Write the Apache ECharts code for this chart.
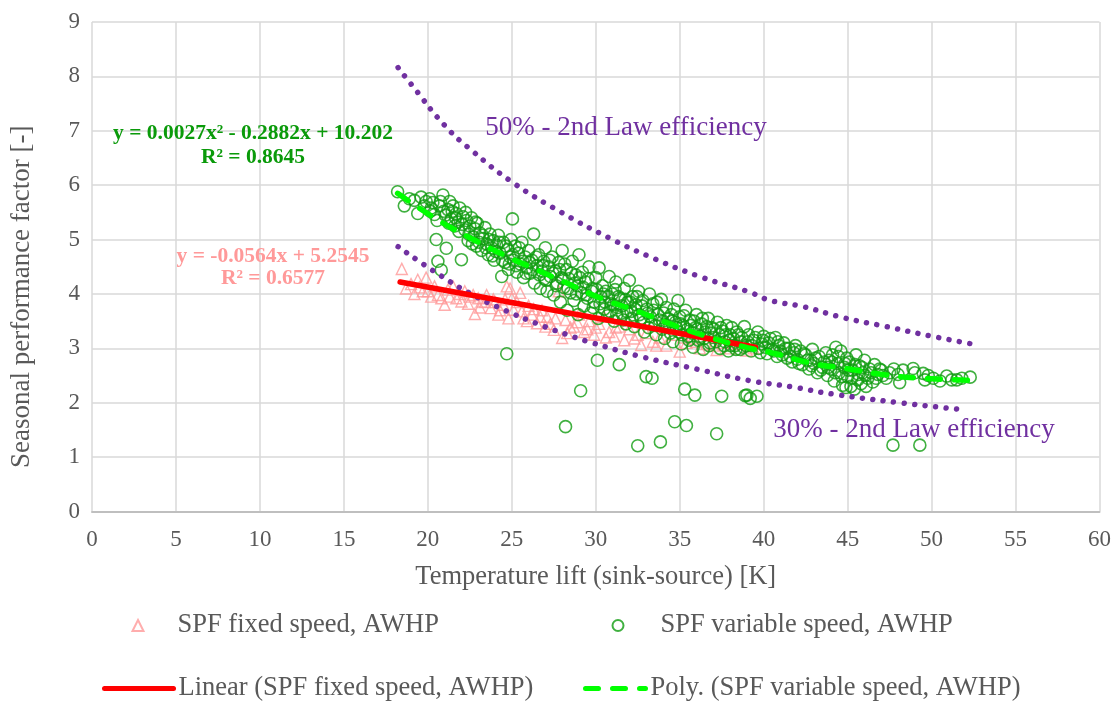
<!DOCTYPE html>
<html>
<head>
<meta charset="utf-8">
<script src="https://cdn.jsdelivr.net/npm/echarts@6/dist/echarts.min.js"></script>
<style>
html,body{margin:0;padding:0;background:#fff;}
#chart{width:1114px;height:702px;}
</style>
</head>
<body>
<div id="chart"></div>
<script>
// ---- data ----
var xTicks = [0,5,10,15,20,25,30,35,40,45,50,55,60];
var yTicks = [0,1,2,3,4,5,6,7,8,9];

var fixedSpeedPoints = [
 [18.45,4.46],[18.7,4.1],[19.0,4.18],[19.2,4.0],[19.4,4.26],[19.5,4.12],[19.7,4.05],[19.9,4.3],[20.0,4.05],[20.2,3.95],[20.4,4.14],[20.6,3.98],
 [20.8,3.92],[21.0,3.8],[21.2,4.08],[21.3,3.95],[21.5,4.14],[21.7,3.92],[21.9,4.0],[22.0,3.86],[22.2,4.05],[22.4,3.82],[22.5,3.95],[22.7,3.98],[22.8,3.63],[23.0,3.92],
 [23.1,3.75],[23.2,3.86],[23.4,3.85],[23.5,3.98],[23.75,3.74],[23.9,3.9],[24.0,3.85],[24.2,3.62],[24.3,3.7],[24.5,3.8],[24.6,3.9],[24.7,4.14],[24.8,3.55],[24.9,4.1],[25.0,3.92],[25.1,3.71],
 [25.3,3.85],[25.5,4.02],[25.6,3.68],[25.7,3.55],[25.9,3.5],[26.0,3.78],[26.2,3.62],[26.3,3.72],[26.5,3.46],[26.7,3.58],[26.8,3.7],[27.0,3.4],[27.1,3.58],[27.3,3.45],
 [27.5,3.34],[27.6,3.55],[27.8,4.05],[28.0,3.19],[28.2,3.52],[28.3,3.28],[28.5,3.38],[28.7,3.4],[28.9,3.48],[29.0,3.62],[29.3,3.3],[29.5,3.35],[29.6,3.5],
 [29.9,3.25],[30.0,3.38],[30.2,3.45],[30.5,3.58],[30.6,3.2],[30.8,3.3],[31.1,3.22],[31.2,3.38],[31.4,3.4],[31.7,3.15],[32.0,3.35],[32.3,3.18],[32.5,3.25],
 [32.7,3.06],[33.0,3.28],[33.4,3.12],[33.6,3.05],[33.8,3.2],[34.2,3.05],[34.6,3.25],[35.0,2.94],[35.2,3.2],[35.4,3.1],[35.8,3.18],
 [36.0,3.12],[36.2,3.0],[36.6,3.08],[37.0,3.05],[37.2,2.97],[37.6,3.1],[38.0,3.0],[38.3,3.12],[38.5,3.08],[39.0,2.96],[39.4,3.0]
];

var variableSpeedPoints = [
 [18.2,5.88],[18.6,5.62],[18.9,5.75],
 [19.2,5.72],[19.4,5.48],[19.6,5.78],[19.8,5.62],[19.9,5.70],
 [20.1,5.75],[20.15,5.52],[20.2,5.58],[20.3,5.68],[20.4,5.46],[20.5,5.0],[20.55,5.35],[20.6,4.6],[20.7,5.62],[20.75,5.7],[20.8,4.44],[20.9,5.82],[20.95,5.52],
 [21.05,5.45],[21.1,4.84],[21.2,5.55],[21.25,5.3],[21.3,5.7],[21.4,5.38],[21.45,5.52],[21.5,5.62],[21.6,5.25],[21.65,5.4],[21.7,5.48],[21.8,5.32],[21.85,5.15],[21.9,5.58],[22.0,4.63],
 [22.05,5.28],[22.1,5.42],[22.2,5.18],[22.25,5.5],[22.3,5.35],[22.4,4.98],[22.45,5.1],[22.5,5.25],[22.6,5.4],[22.65,4.92],[22.7,5.05],[22.8,5.2],[22.85,5.32],[22.9,4.88],[22.95,5.3],
 [23.05,4.95],[23.1,5.12],[23.2,4.8],[23.25,5.08],[23.3,5.02],[23.4,5.22],[23.45,4.85],[23.5,4.92],[23.6,4.72],[23.65,5.0],[23.7,5.1],[23.8,4.85],[23.85,4.7],[23.9,4.98],[23.95,4.62],
 [24.05,4.78],[24.1,4.9],[24.2,5.08],[24.25,4.95],[24.3,4.75],[24.4,4.32],[24.45,4.62],[24.5,4.95],[24.6,4.58],[24.65,4.88],[24.7,2.9],[24.75,4.82],[24.8,4.45],[24.85,4.55],[24.9,4.68],[24.95,5.0],
 [25.04,5.38],[25.05,4.72],[25.1,4.62],[25.2,4.88],[25.25,4.52],[25.3,4.4],[25.4,4.75],[25.45,4.85],[25.5,4.55],[25.6,4.95],[25.65,4.6],[25.7,4.3],[25.8,4.68],[25.85,4.38],[25.9,4.48],
 [26.0,4.8],[26.05,4.58],[26.1,4.38],[26.2,4.62],[26.25,4.45],[26.3,5.1],[26.35,4.2],[26.45,4.68],[26.5,4.52],[26.6,4.72],[26.65,4.35],[26.7,4.1],[26.8,4.42],[26.85,4.52],[26.9,4.6],[26.95,4.28],
 [27.0,4.85],[27.05,4.25],[27.1,4.05],[27.2,4.5],[27.25,4.62],[27.3,4.32],[27.4,4.68],[27.45,4.38],[27.5,3.98],[27.6,4.42],[27.65,4.15],[27.7,4.2],[27.8,4.58],[27.85,4.45],[27.9,3.85],[27.95,4.3],
 [28.0,4.8],[28.05,4.28],[28.1,4.12],[28.15,4.55],[28.2,1.56],[28.25,4.45],[28.3,3.7],[28.35,4.1],[28.4,4.28],[28.5,4.02],[28.55,4.38],[28.6,4.6],[28.7,3.88],[28.75,4.2],[28.8,4.35],[28.85,4.0],[28.9,4.15],[28.95,3.62],
 [29.0,4.72],[29.05,4.3],[29.1,2.22],[29.15,4.02],[29.2,4.4],[29.25,4.12],[29.3,3.78],[29.4,4.22],[29.45,3.98],[29.5,3.92],[29.55,4.28],[29.6,4.5],[29.7,3.65],[29.75,4.05],[29.8,4.1],[29.85,3.75],[29.9,3.85],
 [30.0,4.3],[30.05,4.08],[30.1,2.78],[30.15,3.55],[30.2,4.48],[30.25,3.82],[30.3,3.95],[30.4,4.15],[30.45,4.0],[30.5,3.72],[30.55,3.85],[30.6,4.05],[30.7,3.6],[30.75,3.95],[30.8,4.32],[30.85,3.68],[30.9,3.82],
 [31.0,4.0],[31.05,3.8],[31.1,3.5],[31.15,4.08],[31.2,4.22],[31.25,3.62],[31.3,3.75],[31.35,3.95],[31.4,2.7],[31.45,3.92],[31.55,3.78],[31.6,3.62],[31.65,3.52],[31.7,4.1],[31.75,3.9],[31.8,3.45],[31.85,3.68],[31.9,3.85],
 [32.0,4.25],[32.05,3.85],[32.1,3.68],[32.15,3.55],[32.2,3.95],[32.3,3.4],[32.35,3.72],[32.4,3.8],[32.45,3.95],[32.5,1.21],[32.55,4.05],[32.6,3.62],[32.7,3.55],[32.75,3.78],[32.8,3.88],[32.85,3.48],[32.9,3.3],
 [33.0,2.48],[33.05,3.72],[33.1,3.65],[33.15,3.38],[33.2,4.0],[33.25,3.58],[33.3,3.45],[33.35,2.45],[33.4,3.82],[33.45,3.7],[33.55,3.42],[33.6,3.25],[33.65,3.85],[33.7,3.62],[33.8,3.52],[33.85,1.28],[33.9,3.9],[33.95,3.35],
 [34.0,3.5],[34.05,3.65],[34.1,3.18],[34.15,3.42],[34.2,3.75],[34.3,3.55],[34.4,3.38],[34.45,3.28],[34.5,3.62],[34.55,3.5],[34.6,3.12],[34.65,3.72],[34.7,1.65],[34.75,3.48],[34.8,3.38],[34.9,3.88],[34.95,3.3],
 [35.0,3.58],[35.05,3.45],[35.1,3.08],[35.15,3.25],[35.2,3.42],[35.25,3.6],[35.3,2.25],[35.35,3.7],[35.4,1.58],[35.45,3.35],[35.5,3.22],[35.55,3.15],[35.6,3.52],[35.65,3.42],[35.75,3.28],[35.8,3.02],[35.85,3.5],[35.9,2.14],[35.95,3.38],
 [36.0,3.62],[36.05,3.35],[36.1,3.15],[36.2,3.22],[36.3,3.45],[36.35,3.55],[36.4,2.98],[36.45,3.18],[36.5,3.3],[36.6,3.4],[36.7,3.55],[36.75,3.05],[36.8,3.1],[36.85,3.28],[36.9,3.38],
 [37.0,3.2],[37.05,3.35],[37.15,3.12],[37.2,1.43],[37.25,3.48],[37.35,3.25],[37.4,3.0],[37.45,3.38],[37.5,2.12],[37.55,3.32],[37.65,3.05],[37.7,3.12],[37.75,3.25],[37.8,3.42],[37.9,2.95],[37.95,3.15],
 [38.0,3.25],[38.05,3.05],[38.1,3.38],[38.2,3.18],[38.3,3.05],[38.35,2.98],[38.4,3.3],[38.5,3.25],[38.6,2.98],[38.65,3.12],[38.7,3.2],[38.8,3.02],[38.85,3.4],[38.9,2.13],[38.95,3.05],
 [39.0,2.14],[39.05,3.12],[39.1,3.25],[39.2,2.08],[39.25,2.95],[39.3,3.05],[39.4,3.15],[39.5,3.2],[39.6,2.12],[39.65,3.3],[39.7,3.0],[39.8,2.92],[39.9,3.08],[39.95,3.15],
 [40.0,3.22],[40.1,3.02],[40.2,2.9],[40.3,3.1],[40.4,3.18],[40.5,2.98],[40.6,2.95],[40.7,3.2],[40.8,2.85],[40.85,3.12],[40.9,3.05],
 [41.0,2.95],[41.1,2.88],[41.2,3.1],[41.3,3.0],[41.4,2.82],[41.5,3.0],[41.6,2.85],[41.7,2.75],[41.8,2.92],[41.85,2.98],[41.9,3.05],
 [42.0,2.8],[42.1,2.72],[42.2,2.95],[42.3,2.7],[42.4,2.9],[42.5,2.88],[42.6,2.78],[42.7,2.62],[42.8,2.78],[42.85,2.68],[42.9,2.98],
 [43.0,2.72],[43.1,2.82],[43.2,2.55],[43.3,2.85],[43.4,2.6],[43.5,2.65],[43.6,2.75],[43.7,2.92],[43.8,2.5],[43.85,2.65],[43.9,2.78],
 [44.0,2.62],[44.05,2.75],[44.1,2.88],[44.2,2.4],[44.25,2.55],[44.3,3.02],[44.4,2.72],[44.45,2.85],[44.5,2.55],[44.6,2.95],[44.65,2.48],[44.7,2.32],[44.8,2.65],[44.85,2.72],[44.9,2.28],[44.95,2.82],
 [45.0,2.48],[45.05,2.6],[45.1,2.75],[45.2,2.3],[45.25,2.45],[45.3,2.6],[45.4,2.25],[45.45,2.7],[45.5,2.88],[45.6,2.42],[45.65,2.52],[45.7,2.68],[45.8,2.35],[45.85,2.65],[45.9,2.55],
 [46.0,2.78],[46.05,2.5],[46.1,2.3],[46.2,2.45],[46.3,2.62],[46.4,2.55],[46.5,2.38],[46.6,2.7],[46.7,2.45],[46.8,2.52],[46.9,2.62],
 [47.0,2.6],[47.1,2.5],[47.3,2.45],[47.5,2.55],[47.7,1.22],[47.75,2.62],[48.0,2.52],[48.1,2.37],
 [48.3,2.6],[48.9,2.63],[49.0,2.55],
 [49.3,1.22],[49.5,2.54],[49.6,2.42],[49.8,2.5],
 [50.1,2.45],[50.5,2.4],[50.9,2.49],[51.2,2.42],[51.5,2.42],[51.8,2.45],[52.3,2.47]
];

// trendlines
var linearTrendX = [18.35, 39.5];
var linearTrendY = [4.22, 3.02];
var polyTrendX = [18.2, 20.6, 22.96, 24.5, 26.3, 28.5, 30.3, 32.5, 34.6, 36.6, 38.8, 40.6, 42.8, 45.1, 47.3, 49.5, 52.36];
var polyTrendY = [5.85, 5.36, 4.96, 4.72, 4.47, 4.17, 3.92, 3.68, 3.43, 3.22, 3.03, 2.91, 2.73, 2.62, 2.51, 2.45, 2.41];

// 2nd-law efficiency curves
var eff50X = [18.23, 19.1, 21.0, 22.57, 25.1, 27.9, 30.8, 33.1, 36.1, 39.1, 40.4, 42.3, 44.8, 47.3, 49.9, 52.4];
var eff50Y = [8.16, 7.82, 7.1, 6.65, 6.04, 5.51, 5.03, 4.70, 4.33, 4.04, 3.88, 3.77, 3.56, 3.40, 3.23, 3.08];
var eff30X = [18.23, 20.4, 22.57, 24.3, 26.7, 28.5, 29.7, 32.8, 36.0, 39.1, 41.7, 44.1, 48.1, 51.9];
var eff30Y = [4.87, 4.41, 4.0, 3.74, 3.43, 3.23, 3.11, 2.84, 2.62, 2.41, 2.29, 2.16, 2.0, 1.87];

var seriesNames = ['SPF fixed speed, AWHP', 'SPF variable speed, AWHP',
                   'Linear (SPF fixed speed, AWHP)', 'Poly. (SPF variable speed, AWHP)'];
var polyEquation = ['y = 0.0027x\u00b2 - 0.2882x + 10.202', 'R\u00b2 = 0.8645'];
var linearEquation = ['y = -0.0564x + 5.2545', 'R\u00b2 = 0.6577'];
var effLabels = ['50% - 2nd Law efficiency', '30% - 2nd Law efficiency'];

function zip(xs, ys){ return xs.map(function(x,i){ return [x, ys[i]]; }); }

var FONT = "'Liberation Serif','Times New Roman',serif";
var GRAY = '#595959';
var chart = echarts.init(document.getElementById('chart'));

function symbolLegend(name, left, top, textPad){
  return {
    data: [name], left: left, top: top, padding: 0,
    itemWidth: 11, itemHeight: 11, itemGap: 5, selectedMode: false,
    textStyle: {fontFamily: FONT, fontSize: 26.5, color: GRAY, padding: [0, 0, 0, textPad]}
  };
}
function lineLegend(name, left, top, w){
  return {
    data: [name], left: left, top: top, padding: 0,
    itemWidth: w, itemHeight: 12, itemGap: 5, selectedMode: false,
    itemStyle: {opacity: 0},
    lineStyle: {width: 5},
    textStyle: {fontFamily: FONT, fontSize: 26.5, color: GRAY}
  };
}

var option = {
  animation: false,
  backgroundColor: '#ffffff',
  grid: {left: 90, right: 14, top: 22, bottom: 190.5, containLabel: false},
  xAxis: {
    type: 'value', min: 0, max: 60, interval: 5,
    name: 'Temperature lift (sink-source) [K]', nameLocation: 'middle', nameGap: 52,
    nameTextStyle: {fontFamily: FONT, fontSize: 26.5, color: GRAY},
    axisLine: {show: true, onZero: false, lineStyle: {color: '#BFBFBF', width: 2}},
    axisTick: {show: false},
    axisLabel: {margin: 17, fontFamily: FONT, fontSize: 23, color: GRAY,
      formatter: function(v){ return xTicks.indexOf(v) >= 0 ? String(v) : ''; }},
    splitLine: {show: true, lineStyle: {color: '#D9D9D9', width: 1.5}}
  },
  yAxis: {
    type: 'value', min: 0, max: 9, interval: 1,
    name: 'Seasonal performance factor [-]', nameLocation: 'middle', nameGap: 57, nameRotate: 90,
    nameTextStyle: {fontFamily: FONT, fontSize: 27, color: GRAY, padding: [0, 60, 0, 0]},
    axisLine: {show: false},
    axisTick: {show: false},
    axisLabel: {margin: 12, fontFamily: FONT, fontSize: 23, color: GRAY,
      formatter: function(v){ return yTicks.indexOf(v) >= 0 ? String(v) : ''; }},
    splitLine: {show: true, lineStyle: {color: '#D9D9D9', width: 1.5}}
  },
  legend: [
    symbolLegend(seriesNames[0], 131.5, 612, 29),
    symbolLegend(seriesNames[1], 611.5, 612, 32),
    lineLegend(seriesNames[2], 102, 675, 69),
    lineLegend(seriesNames[3], 583, 675, 60)
  ],
  series: [
    {
      name: seriesNames[0], type: 'scatter', symbol: 'triangle', symbolSize: 11,
      itemStyle: {color: 'rgba(0,0,0,0)', borderColor: '#FF9999', borderWidth: 1.4},
      data: fixedSpeedPoints, z: 2
    },
    {
      name: seriesNames[1], type: 'scatter', symbol: 'circle', symbolSize: 12,
      itemStyle: {color: 'rgba(0,0,0,0)', borderColor: '#109C10', borderWidth: 1.6},
      data: variableSpeedPoints, z: 3
    },
    {
      name: 'eff50', type: 'line', smooth: true, symbol: 'none', z: 4,
      lineStyle: {color: '#7030A0', width: 5.5, type: [0.01, 10.5], cap: 'round'},
      data: zip(eff50X, eff50Y)
    },
    {
      name: 'eff30', type: 'line', smooth: true, symbol: 'none', z: 4,
      lineStyle: {color: '#7030A0', width: 5.5, type: [0.01, 10.5], cap: 'round'},
      data: zip(eff30X, eff30Y)
    },
    {
      name: seriesNames[2], type: 'line', symbol: 'none', z: 5,
      lineStyle: {color: '#FF0000', width: 5.5, cap: 'round'},
      itemStyle: {color: '#FF0000'},
      data: zip(linearTrendX, linearTrendY)
    },
    {
      name: seriesNames[3], type: 'line', smooth: true, symbol: 'none', z: 6,
      lineStyle: {color: '#00FF00', width: 5.5, type: [13, 14], cap: 'round'},
      itemStyle: {color: '#00FF00'},
      data: zip(polyTrendX, polyTrendY)
    }
  ],
  graphic: [
    {type: 'text', z: 100, x: 253, y: 133, style: {text: polyEquation[0], font: 'bold 21.5px ' + FONT, fill: '#0A9A0A', textAlign: 'center', textVerticalAlign: 'middle'}},
    {type: 'text', z: 100, x: 253, y: 157, style: {text: polyEquation[1], font: 'bold 21.5px ' + FONT, fill: '#0A9A0A', textAlign: 'center', textVerticalAlign: 'middle'}},
    {type: 'text', z: 100, x: 273, y: 256, style: {text: linearEquation[0], font: 'bold 21.5px ' + FONT, fill: '#FF9999', textAlign: 'center', textVerticalAlign: 'middle'}},
    {type: 'text', z: 100, x: 273, y: 278, style: {text: linearEquation[1], font: 'bold 21.5px ' + FONT, fill: '#FF9999', textAlign: 'center', textVerticalAlign: 'middle'}},
    {type: 'text', z: 100, x: 626, y: 128, style: {text: effLabels[0], font: '27px ' + FONT, fill: '#7030A0', textAlign: 'center', textVerticalAlign: 'middle'}},
    {type: 'text', z: 100, x: 914, y: 430, style: {text: effLabels[1], font: '27px ' + FONT, fill: '#7030A0', textAlign: 'center', textVerticalAlign: 'middle'}}
  ]
};
chart.setOption(option);
</script>
</body>
</html>
